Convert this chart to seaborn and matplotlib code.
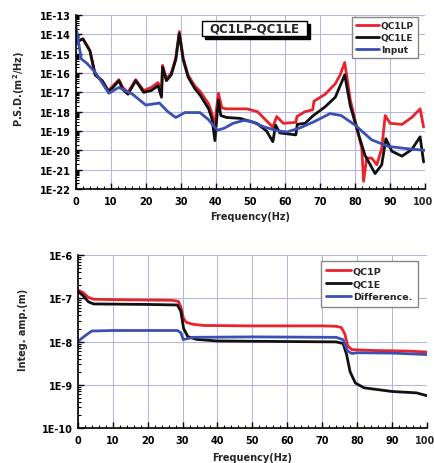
import numpy as np
import pandas as pd
import seaborn as sns
import matplotlib.pyplot as plt
from matplotlib.patches import Rectangle
from matplotlib.ticker import FixedLocator, FuncFormatter, LogLocator, MultipleLocator, NullFormatter

# ---- top panel: P.S.D. ----
le_freq = [0, 2, 4, 5.5, 7.5, 9.3, 10.6, 12.3, 13.4, 14.9, 17.1, 19.4, 21.6, 23.5, 24.5,
           24.8, 25.9, 27.3, 28.6, 29.6, 30.7, 32.1, 34.0, 35.6, 38.0, 39.0, 39.8, 40.8,
           41.5, 43.2, 47, 51.8, 54.6, 56.4, 57.2, 58.4, 63.0, 63.4, 65.6, 68, 71.4, 74.3,
           77.0, 78.6, 81, 82.8, 85.7, 87.6, 88.8, 90.5, 93.4, 96.2, 98.6, 99.6]
le_psd = [4.0e-15, 5.8e-15, 1.4e-15, 8e-17, 4e-17, 1.1e-17, 1.8e-17, 4e-17, 1.4e-17, 8e-18,
          4e-17, 1e-17, 1.25e-17, 2.2e-17, 5.6e-18, 2e-16, 4e-17, 8e-17, 5e-16, 1.1e-14,
          5e-16, 6.3e-17, 1.6e-17, 7e-18, 1.4e-18, 4e-19, 3.2e-20, 4e-18, 6.3e-19, 5e-19,
          4.5e-19, 2.5e-19, 1e-19, 2.8e-20, 2e-19, 8e-20, 6.3e-20, 2.2e-19, 2.5e-19, 6.3e-19,
          1.8e-18, 5.6e-18, 8e-17, 2e-18, 6.3e-20, 5.6e-21, 6.3e-22, 1.8e-21, 4e-20, 9e-21,
          5e-21, 1.1e-20, 5e-20, 2.5e-21]

lp_freq = [0, 2, 4, 5.5, 7.5, 9.3, 10.6, 12.3, 13.4, 14.9, 17.1, 19.4, 21.6, 23.5, 24.5,
           24.8, 25.9, 27.3, 28.6, 29.6, 30.7, 32.1, 34.0, 35.6, 38.0, 39.0, 39.6, 40.8,
           41.8, 43, 49, 52, 56.4, 57.5, 59.4, 63.0, 63.3, 65.6, 67.8, 68.2, 71.4, 74.3,
           75.7, 77.0, 78.6, 80.5, 81.9, 82.4, 83.3, 84.7, 86.2, 87.6, 88.6, 90, 93.4,
           96.2, 98.6, 99.6]
lp_psd = [4e-15, 5.8e-15, 1.4e-15, 8e-17, 4e-17, 1.25e-17, 2.2e-17, 4.5e-17, 1.8e-17, 1e-17,
          4.5e-17, 1.25e-17, 1.8e-17, 3.2e-17, 1.25e-17, 2.5e-16, 5e-17, 1e-16, 6.3e-16,
          1.4e-14, 6.3e-16, 8e-17, 2.2e-17, 1.1e-17, 2.5e-18, 8e-19, 1.25e-19, 9e-18,
          1.6e-18, 1.4e-18, 1.4e-18, 1e-18, 1.6e-19, 5.6e-19, 2.5e-19, 2.8e-19, 5.6e-19,
          1e-18, 1.25e-18, 3.5e-18, 8e-18, 2.8e-17, 8e-17, 3.5e-16, 4e-18, 1.4e-19,
          1.25e-20, 2.5e-22, 4e-21, 4e-21, 1.8e-21, 1.25e-20, 6.3e-19, 2.5e-19, 2.2e-19,
          5e-19, 1.4e-18, 1.6e-19]

input_freq = [0, 1.5, 3.1, 5.5, 9.4, 12.3, 16.2, 20, 23.9, 26.3, 28.6, 31.2, 35.5, 37.9,
              40.5, 42.5, 45, 48, 50, 54, 58, 60.5, 64, 68.5, 72.8, 76, 80, 84.7, 89.5,
              94.3, 100]
input_psd = [2.5e-14, 5.4e-16, 3.2e-16, 1.1e-16, 9e-18, 1.8e-17, 8e-18, 2.2e-18, 2.8e-18,
             1e-18, 5e-19, 9e-19, 9e-19, 4e-19, 1.1e-19, 1.4e-19, 2.5e-19, 3.5e-19, 3.2e-19,
             1.6e-19, 1e-19, 9e-20, 1.4e-19, 3.2e-19, 8e-19, 6.3e-19, 2e-19, 3.5e-20,
             1.6e-20, 1.25e-20, 1e-20]

# ---- bottom panel: integrated amplitude ----
p_freq = [0, 1.5, 3, 4.5, 10, 20, 27, 28.8, 29.6, 30.2, 31, 33, 36, 50, 70, 74, 75.5, 76.5,
          77.3, 78.5, 85, 95, 100]
p_amp = [1.55e-7, 1.35e-7, 1.05e-7, 9.5e-8, 9.3e-8, 9.1e-8, 9e-8, 8.5e-8, 6e-8, 3.5e-8,
         2.8e-8, 2.5e-8, 2.35e-8, 2.3e-8, 2.3e-8, 2.25e-8, 2.1e-8, 1.5e-8, 8e-9, 6.5e-9,
         6.2e-9, 6.0e-9, 5.7e-9]

e_freq = [0, 1.5, 3, 4.5, 20, 28.5, 29.5, 30.3, 31.5, 34, 40, 60, 74, 76, 77, 78, 79.5, 82,
          90, 97, 100]
e_amp = [1.45e-7, 1.15e-7, 8.3e-8, 7.4e-8, 7.2e-8, 7e-8, 5e-8, 2e-8, 1.3e-8, 1.12e-8,
         1.03e-8, 1.0e-8, 9.8e-9, 9e-9, 5e-9, 2e-9, 1.1e-9, 8.5e-10, 7e-10, 6.5e-10, 5.6e-10]

diff_freq = [0, 2, 4, 10, 28.5, 29.5, 30.2, 31, 33, 50, 74, 76, 77.3, 78.5, 80, 90, 100]
diff_amp = [1.0e-8, 1.35e-8, 1.75e-8, 1.8e-8, 1.8e-8, 1.6e-8, 1.1e-8, 1.15e-8, 1.25e-8,
            1.28e-8, 1.25e-8, 1.1e-8, 6e-9, 5.3e-9, 5.5e-9, 5.4e-9, 5.0e-9]

freq_ticks = [0, 10, 20, 30, 40, 50, 60, 70, 80, 90, 100]

RED = "#e8232b"
BLACK = "#111111"
BLUE = "#3c4fb4"
GRID = "#b4b4e6"

top_df = pd.concat([
    pd.DataFrame({"freq": lp_freq, "val": lp_psd, "series": "QC1LP"}),
    pd.DataFrame({"freq": le_freq, "val": le_psd, "series": "QC1LE"}),
    pd.DataFrame({"freq": input_freq, "val": input_psd, "series": "Input"}),
])
bot_df = pd.concat([
    pd.DataFrame({"freq": p_freq, "val": p_amp, "series": "QC1P"}),
    pd.DataFrame({"freq": e_freq, "val": e_amp, "series": "QC1E"}),
    pd.DataFrame({"freq": diff_freq, "val": diff_amp, "series": "Difference."}),
])

sns.set_theme(style="ticks")
plt.rcParams["font.family"] = ["DejaVu Sans"]
plt.rcParams["font.weight"] = "bold"

fig = plt.figure(figsize=(4.35, 4.64), dpi=100)
ax_top = fig.add_axes([0.1747, 0.5905, 0.8023, 0.375])
ax_bot = fig.add_axes([0.179, 0.0754, 0.8023, 0.3728])


def style_axes(ax, lo, hi):
    ax.set_yscale("log")
    ax.set_xlim(0, 100)
    ax.set_ylim(10.0 ** lo, 10.0 ** hi)
    ax.set_axisbelow(True)
    ax.xaxis.set_major_locator(FixedLocator(freq_ticks))
    ax.xaxis.set_minor_locator(MultipleLocator(2))
    # last label drawn separately so it stays inside the picture
    ax.xaxis.set_major_formatter(FuncFormatter(lambda v, p: "" if v >= 100 else f"{v:.0f}"))
    ax.yaxis.set_major_locator(FixedLocator([10.0 ** e for e in range(lo, hi + 1)]))
    ax.yaxis.set_minor_locator(LogLocator(base=10, subs=np.arange(2, 10), numticks=20))
    ax.yaxis.set_minor_formatter(NullFormatter())
    ax.yaxis.set_major_formatter(
        FuncFormatter(lambda v, p: f"1E{int(round(np.log10(v)))}"))
    ax.grid(True, which="major", color=GRID, lw=0.75)
    ax.grid(False, which="minor")
    ax.tick_params(which="both", direction="in", colors="black", labelsize=7)
    ax.tick_params(axis="x", which="major", pad=5)
    ax.tick_params(which="major", length=4, width=1)
    ax.tick_params(which="minor", length=2, width=0.8)
    for s in ["top", "right"]:
        ax.spines[s].set_visible(False)
    for s in ["left", "bottom"]:
        ax.spines[s].set_color("black")
        ax.spines[s].set_linewidth(1.2)
    ax.annotate("100", xy=(100, 0), xycoords=("data", "axes fraction"),
                xytext=(6, -5), textcoords="offset points", ha="right", va="top",
                fontsize=7, fontweight="bold", annotation_clip=False)


sns.lineplot(data=top_df, x="freq", y="val", hue="series", estimator=None, sort=False,
             palette={"QC1LP": RED, "QC1LE": BLACK, "Input": BLUE}, lw=2, ax=ax_top)
style_axes(ax_top, -22, -13)
ax_top.set_xlabel("Frequency(Hz)", fontsize=7, fontweight="bold")
ax_top.xaxis.set_label_coords(0.5, -0.124)
ax_top.set_ylabel("P.S.D.(m$^2$/Hz)", fontsize=7, fontweight="bold")
ax_top.yaxis.set_label_coords(-0.14, 0.583)
ax_top.legend(loc="upper right", bbox_to_anchor=(0.98, 0.99), fontsize=6.5, frameon=True,
              fancybox=False, edgecolor="#888888", framealpha=1, borderpad=0.45,
              labelspacing=0.35, handlelength=2.6, handletextpad=0.2, borderaxespad=0)

# title box with drop shadow
ax_top.add_patch(Rectangle((0.369, 0.864), 0.301, 0.086, transform=ax_top.transAxes,
                           facecolor="black", edgecolor="black", zorder=5))
ax_top.add_patch(Rectangle((0.36, 0.881), 0.301, 0.086, transform=ax_top.transAxes,
                           facecolor="white", edgecolor="black", lw=1, zorder=6))
ax_top.text(0.51, 0.924, "QC1LP-QC1LE", transform=ax_top.transAxes, ha="center",
            va="center", fontsize=8.5, fontweight="bold", zorder=7)

sns.lineplot(data=bot_df, x="freq", y="val", hue="series", estimator=None, sort=False,
             palette={"QC1P": RED, "QC1E": BLACK, "Difference.": BLUE}, lw=2, ax=ax_bot)
style_axes(ax_bot, -10, -6)
ax_bot.set_xlabel("Frequency(Hz)", fontsize=7, fontweight="bold")
ax_bot.xaxis.set_label_coords(0.5, -0.137)
ax_bot.set_ylabel("Integ. amp.(m)", fontsize=7, fontweight="bold")
ax_bot.yaxis.set_label_coords(-0.143, 0.572)
ax_bot.legend(loc="upper right", bbox_to_anchor=(0.974, 0.965), fontsize=6.8, frameon=True,
              fancybox=False, edgecolor="#888888", framealpha=1, borderpad=0.6,
              labelspacing=0.4, handlelength=2.6, handletextpad=0.2, borderaxespad=0)

fig.savefig("out.png", dpi=100, facecolor="white")
